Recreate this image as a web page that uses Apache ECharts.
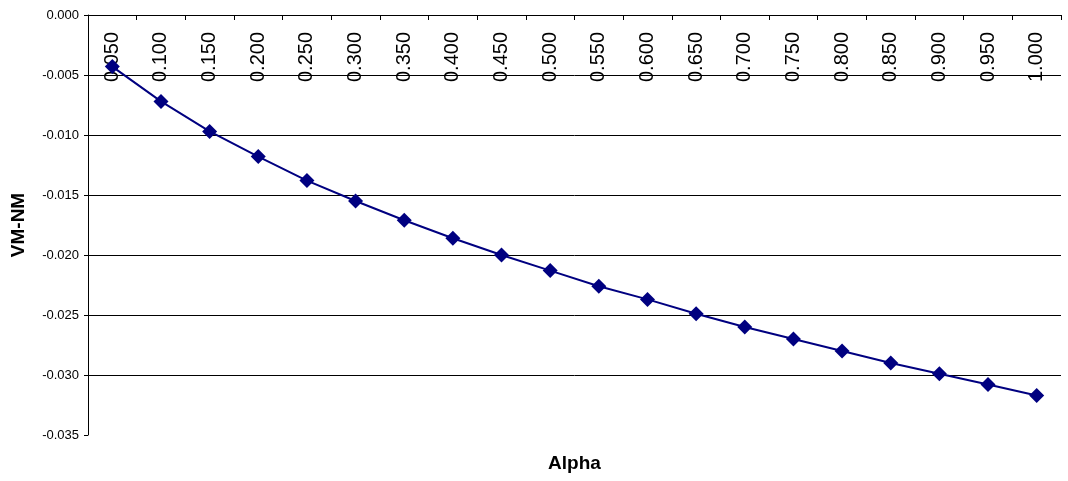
<!DOCTYPE html>
<html>
<head>
<meta charset="utf-8">
<script src="https://cdn.jsdelivr.net/npm/echarts@6/dist/echarts.min.js"></script>
<style>
html,body{margin:0;padding:0;background:#fff;}
#chart{width:1068px;height:481px;}
</style>
</head>
<body>
<div id="chart"></div>
<script>
const categories = ["0.050","0.100","0.150","0.200","0.250","0.300","0.350","0.400","0.450","0.500",
  "0.550","0.600","0.650","0.700","0.750","0.800","0.850","0.900","0.950","1.000"];
const vmNm = [-0.0043,-0.0072,-0.0097,-0.0118,-0.0138,-0.0155,-0.0171,-0.0186,-0.0200,-0.0213,
  -0.0226,-0.0237,-0.0249,-0.0260,-0.0270,-0.0280,-0.0290,-0.0299,-0.0308,-0.0317];
const yMin = -0.035, yMax = 0, yStep = 0.005;

const chart = echarts.init(document.getElementById('chart'), null, {renderer:'canvas'});
chart.setOption({
  animation:false,
  backgroundColor:'#ffffff',
  grid:{left:88,right:7,top:15,bottom:46,containLabel:false},
  xAxis:{
    type:'category',
    data:categories,
    position:'top',
    boundaryGap:true,
    name:'Alpha',
    nameLocation:'middle',
    nameGap:-458,
    nameTextStyle:{fontFamily:'Liberation Sans',fontWeight:'bold',fontSize:19,color:'#000'},
    axisLine:{lineStyle:{color:'#000',width:1}},
    axisTick:{show:true,inside:true,length:5,alignWithLabel:false,lineStyle:{color:'#000'}},
    axisLabel:{inside:true,rotate:90,margin:17,fontFamily:'Liberation Sans',fontSize:20,color:'#000',interval:0},
    splitLine:{show:false}
  },
  yAxis:{
    type:'value',
    min:yMin,max:yMax,interval:yStep,
    name:'VM-NM',
    nameLocation:'middle',
    nameGap:60,
    nameRotate:90,
    nameTextStyle:{fontFamily:'Liberation Sans',fontWeight:'bold',fontSize:19,color:'#000'},
    axisLine:{show:true,lineStyle:{color:'#000',width:1}},
    axisTick:{show:true,inside:false,length:4,lineStyle:{color:'#000'}},
    axisLabel:{margin:9,fontFamily:'Liberation Sans',fontSize:13,color:'#000',
      formatter:v=>v.toFixed(3)},
    splitLine:{show:true,showMinLine:false,lineStyle:{color:'#000',width:1}}
  },
  series:[{
    type:'line',
    data:vmNm,
    symbol:'diamond',
    symbolSize:15,
    itemStyle:{color:'#000080'},
    lineStyle:{color:'#000080',width:2},
    z:5
  }]
});
</script>
</body>
</html>
